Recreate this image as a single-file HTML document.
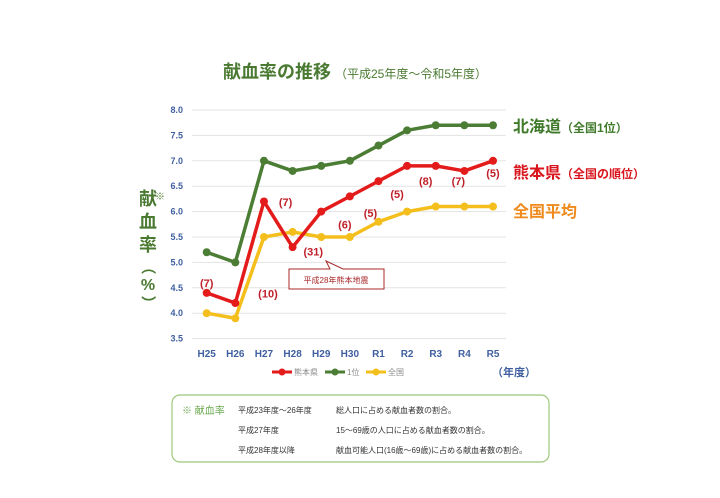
<!DOCTYPE html>
<html><head><meta charset="utf-8"><style>
body{margin:0;background:#fff;width:720px;height:498px;overflow:hidden;font-family:"Liberation Sans","Noto Sans CJK JP",sans-serif}
svg{display:block}
</style></head><body>
<svg id="chart" width="720" height="498" font-family="Liberation Sans, Noto Sans CJK JP, sans-serif">
<text x="355" y="78" text-anchor="middle" fill="#4a7a32"><tspan font-size="18" font-weight="bold">献血率の推移</tspan><tspan font-size="12" dx="4">（平成25年度～令和5年度）</tspan></text>
<g fill="#4a7a32" font-weight="bold" font-size="18" text-anchor="middle">
<text x="148" y="205">献</text><text x="148" y="228">血</text><text x="148" y="251">率</text>
<text x="148" y="272" font-size="15" transform="rotate(90 148 267)">（</text>
<text x="148" y="290" font-size="16">%</text>
<text x="148" y="308" font-size="15" transform="rotate(90 148 303)">）</text>
<text x="160" y="200" font-size="10" font-weight="normal">※</text>
</g>
<g id="grid"></g><g id="yticks"></g><g id="xticks"></g><g id="series"></g><g id="ranks"></g>
<g font-weight="bold">
<text x="513" y="132" fill="#3f7a2a" font-size="16">北海道<tspan font-size="12">（全国1位）</tspan></text>
<text x="513" y="178" fill="#d9141c" font-size="16">熊本県<tspan font-size="12">（全国の順位）</tspan></text>
<text x="513" y="217" fill="#f08a1c" font-size="16">全国平均</text>
</g>
<g>
<path d="M289,269 L330,269 L326,261 L343,269 L384,269 L384,289 L289,289 Z" fill="#fff" stroke="#a8282a" stroke-width="1"/>
<text x="336" y="283" text-anchor="middle" font-size="8" fill="#a8282a">平成28年熊本地震</text>
</g>
<g font-size="8" fill="#888">
<line x1="272" y1="372" x2="292" y2="372" stroke="#e31b1b" stroke-width="3"/><circle cx="282" cy="372" r="3.5" fill="#e31b1b"/><text x="294" y="375">熊本県</text>
<line x1="325" y1="372" x2="345" y2="372" stroke="#4b7d34" stroke-width="3"/><circle cx="335" cy="372" r="3.5" fill="#4b7d34"/><text x="347" y="375">1位</text>
<line x1="366" y1="372" x2="386" y2="372" stroke="#f4bf1c" stroke-width="3"/><circle cx="376" cy="372" r="3.5" fill="#f4bf1c"/><text x="388" y="375">全国</text>
</g>
<text x="492" y="376" font-size="11" font-weight="bold" fill="#3f5fa0">（年度）</text>
<g font-size="8" fill="#333">
<rect x="172" y="395" width="377" height="67" rx="8" fill="#fff" stroke="#9cc77a" stroke-width="1.2"/>
<text x="182" y="414" fill="#6aa84f" font-size="10">※ 献血率</text>
<text x="238" y="413">平成23年度～26年度</text><text x="336" y="413">総人口に占める献血者数の割合。</text>
<text x="238" y="433">平成27年度</text><text x="336" y="433">15～69歳の人口に占める献血者数の割合。</text>
<text x="238" y="453">平成28年度以降</text><text x="336" y="453">献血可能人口(16歳～69歳)に占める献血者数の割合。</text>
</g>
</svg>
<script>
const categories=["H25","H26","H27","H28","H29","H30","R1","R2","R3","R4","R5"];
const hokkaido=[5.2,5.0,7.0,6.8,6.9,7.0,7.3,7.6,7.7,7.7,7.7];
const kumamoto=[4.4,4.2,6.2,5.3,6.0,6.3,6.6,6.9,6.9,6.8,7.0];
const national=[4.0,3.9,5.5,5.6,5.5,5.5,5.8,6.0,6.1,6.1,6.1];
const ranks=["(7)","","(10)","(7)","(31)","(6)","(5)","(5)","(8)","(7)","(5)"];
const yTicks=["3.5","4.0","4.5","5.0","5.5","6.0","6.5","7.0","7.5","8.0"];
const NS="http://www.w3.org/2000/svg";
const xs=i=>206.7+i*28.63;
const ys=v=>110+(8-v)*50.8;
function mk(t,a,p){const e=document.createElementNS(NS,t);for(const k in a)e.setAttribute(k,a[k]);p.appendChild(e);return e;}
const grid=document.getElementById('grid'),yt=document.getElementById('yticks'),xt=document.getElementById('xticks');
yTicks.forEach(t=>{const v=parseFloat(t);
const l=mk('line',{x1:192,x2:506,y1:ys(v),y2:ys(v),stroke:'#e3e3e3','stroke-width':1},grid);


const tx=mk('text',{x:183,y:ys(v)+3,'text-anchor':'end','font-size':9,'font-weight':'bold',fill:'#3f5fa0'},yt);tx.textContent=t;

});
categories.forEach((c,i)=>{const tx=mk('text',{x:xs(i),y:357,'text-anchor':'middle','font-size':10,'font-weight':'bold',fill:'#3f5fa0'},xt);tx.textContent=c;

});
const sg=document.getElementById('series');
[[hokkaido,'#4b7d34','hokkaido'],[national,'#f4bf1c','national'],[kumamoto,'#e31b1b','kumamoto']].forEach(([d,col,n])=>{
const g=mk('g',{},sg);


const p=mk('polyline',{points:d.map((v,i)=>xs(i)+','+ys(v)).join(' '),fill:'none',stroke:col,'stroke-width':3.5,'stroke-linejoin':'round'},g);


d.forEach((v,i)=>{const c=mk('circle',{cx:xs(i),cy:ys(v),r:4,fill:col},g);

});});
const rg=document.getElementById('ranks');
const off=[[0,-6],[0,0],[4,96],[-7,-41],[-8,44],[-5,32],[-8,36],[-10,32],[-10,19],[-6,14],[0,16]];
ranks.forEach((r,i)=>{if(!r)return;const tx=mk('text',{x:xs(i)+off[i][0],y:ys(kumamoto[i])+off[i][1],'text-anchor':'middle','font-size':11,'font-weight':'bold',fill:'#c0202a'},rg);tx.textContent=r;

});
</script>
</body></html>
